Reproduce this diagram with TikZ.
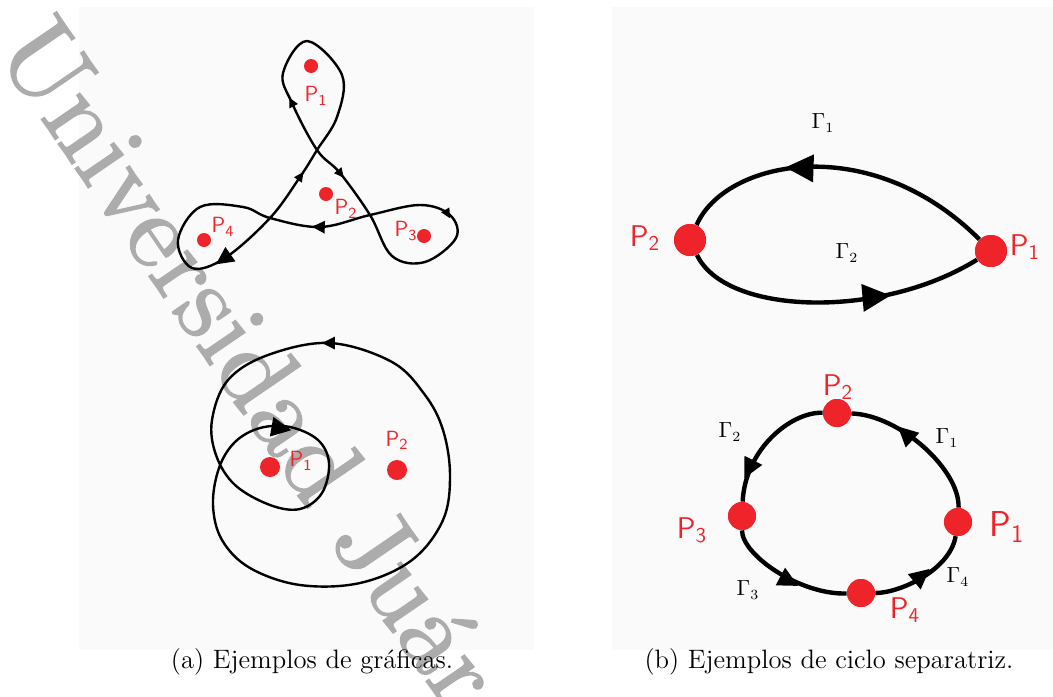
\documentclass[tikz,border=0pt]{standalone}
\usepackage{fontspec}
\newfontfamily\wmfont{lmroman10-regular.otf}[FakeBold=1.5]
\definecolor{ptred}{RGB}{238,36,42}
\definecolor{panelgray}{RGB}{250,250,250}
\definecolor{wmgray}{RGB}{172,172,172}
\tikzset{
  dot/.style={circle,fill=ptred,inner sep=0pt,minimum size=#1},
  lbl/.style={text=ptred,inner sep=0pt,font=\fontsize{#1}{#1}\selectfont},
  glbl/.style={inner sep=0pt,font=\fontsize{#1}{#1}\selectfont},
  orbit/.style={line width=1.2pt,line join=round},
  sepline/.style={line width=2.2pt},
  capt/.style={inner sep=0pt,font=\fontsize{13.3}{15}\selectfont},
  arrowhd/.pic={\fill (5pt,0) -- (-3pt,4pt) -- (-3pt,-4pt) -- cycle;},
}
\begin{document}
\begin{tikzpicture}[x=0.5pt,y=-0.5pt]
\useasboundingbox (0,0) rectangle (1053,696);
% fondos
\fill[panelgray] (79,7) rectangle (534,650);
\fill[panelgray] (612,7) rectangle (1053,650);
\node[text=wmgray,rotate=-55.6,anchor=base west,inner sep=0pt,font=\wmfont\fontsize{53.6}{54}\selectfont] (wm) at (-6,50) {Universidad Juárez};

% (a) arriba
\draw[orbit] plot[smooth cycle,tension=0.6] coordinates {(317,150) (300,177) (270,218) (225,258) (192,268) (178,240) (200,207) (243,207) (270,218) (320,227) (370,215) (420,205) (450,215) (456,238) (425,262) (392,256) (370,215) (340,173) (317,150) (292,103) (283,73) (307,41) (342,75) (337,117)};
\pic[rotate=118,scale=.6] at (292,103) {arrowhd};
\pic[rotate=-51,scale=.6] at (340,173) {arrowhd};
\pic[rotate=55,scale=.6] at (300,177) {arrowhd};
\pic[rotate=215,scale=1.1] at (225,258) {arrowhd};
\pic[rotate=178,scale=.8] at (320,227) {arrowhd};
\pic[rotate=-60,scale=.6] at (447,213) {arrowhd};
\node[dot=7pt] (a1) at (311,66) {};
\node[dot=7pt] (a2) at (326,194) {};
\node[dot=7pt] (a3) at (424,236) {};
\node[dot=7pt] (a4) at (204,240) {};
\node[lbl=11] (la1) at (316,96) {$\mathsf{P_1}$};
\node[lbl=11] (la2) at (346,209) {$\mathsf{P_2}$};
\node[lbl=11] (la3) at (406,231) {$\mathsf{P_3}$};
\node[lbl=11] (la4) at (223,227) {$\mathsf{P_4}$};

% (a) abajo
\draw[orbit] plot[smooth cycle,tension=0.6] coordinates {(330,343) (268,355) (228,380) (212,420) (216,455) (235,485) (270,505) (300,509) (322,493) (329,463) (318,440) (290,427) (260,428) (235,442) (219,468) (213,505) (222,540) (250,568) (300,585) (360,583) (412,560) (443,520) (450,475) (443,430) (425,395) (392,362)};
\pic[rotate=180,scale=.8] at (330,343) {arrowhd};
\pic[rotate=-10,scale=1.25] at (279,428) {arrowhd};
\node[dot=10pt] (d1) at (270,467) {};
\node[dot=10pt] (d2) at (397,470) {};
\node[lbl=11] (ld1) at (301,461) {$\mathsf{P_1}$};
\node[lbl=11] (ld2) at (397,440) {$\mathsf{P_2}$};

% (b) arriba
\node[dot=16pt] (b2) at (690,240) {};
\node[dot=16pt] (b1) at (991,251) {};
\draw[sepline] (b2) .. controls (725,160) and (870,130) .. (b1);
\draw[sepline] (b2) .. controls (725,315) and (880,320) .. (b1);
\node[dot=16pt] at (b2) {};
\node[dot=16pt] at (b1) {};
\pic[rotate=178,scale=1.75] at (803,168) {arrowhd};
\pic[rotate=5,scale=1.75] at (873,297) {arrowhd};
\node[lbl=15] (lb2) at (645,238) {$\mathsf{P_2}$};
\node[lbl=15] (lb1) at (1025,247) {$\mathsf{P_1}$};
\node[glbl=10.5] (g1) at (823,123) {$\Gamma_1$};
\node[glbl=10.5] (g2) at (847,253) {$\Gamma_2$};

% (b) abajo
\node[dot=14pt] (c1) at (958,522) {};
\node[dot=14pt] (c2) at (837,413) {};
\node[dot=14pt] (c3) at (742,516) {};
\node[dot=14pt] (c4) at (861,593) {};
\draw[sepline] (c2) .. controls (790,412) and (745,450) .. (c3);
\draw[sepline] (c3) .. controls (742,555) and (800,595) .. (c4);
\draw[sepline] (c4) .. controls (900,593) and (950,570) .. (c1);
\draw[sepline] (c1) .. controls (960,470) and (900,415) .. (c2);
\foreach \p in {c1,c2,c3,c4} \node[dot=14pt] at (\p) {};
\pic[rotate=137,scale=1.25] at (907,435) {arrowhd};
\pic[rotate=243,scale=1.25] at (750,467) {arrowhd};
\pic[rotate=-28,scale=1.25] at (787,580) {arrowhd};
\pic[rotate=40,scale=1.25] at (920,577) {arrowhd};
\node[lbl=18] (lc1) at (1007,527) {$\mathsf{P_1}$};
\node[lbl=15] (lc2) at (838,387) {$\mathsf{P_2}$};
\node[lbl=15] (lc3) at (692,530) {$\mathsf{P_3}$};
\node[lbl=15] (lc4) at (905,610) {$\mathsf{P_4}$};
\node[glbl=10.5] (h1) at (947,438) {$\Gamma_1$};
\node[glbl=10.5] (h2) at (730,432) {$\Gamma_2$};
\node[glbl=10.5] (h3) at (748,590) {$\Gamma_3$};
\node[glbl=10.5] (h4) at (958,577) {$\Gamma_4$};

% pies
\node[capt,anchor=base] (capa) at (312,668) {(a) Ejemplos de gráficas.};
\node[capt,anchor=base] (capb) at (829,668) {(b) Ejemplos de ciclo separatriz.};
\end{tikzpicture}
\end{document}
